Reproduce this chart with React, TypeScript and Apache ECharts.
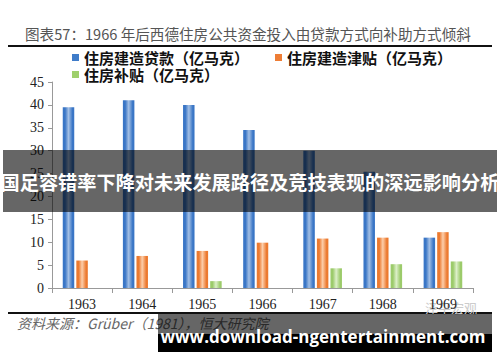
import React, { useEffect, useRef } from "react";
import * as echarts from "echarts";

const categories = ["1963", "1964", "1965", "1966", "1967", "1968", "1969"];
const loanValues = [39.5, 41, 40, 34.5, 30, 25.4, 11];
const buildSubsidyValues = [6, 7, 8.1, 9.9, 10.8, 11, 12.2];
const housingSubsidyValues = [0, 0, 1.5, 0, 4.3, 5.2, 5.8];
const seriesNames = ["住房建造贷款（亿马克）", "住房建造津贴（亿马克）", "住房补贴（亿马克）"];
const yTicks = { min: 0, max: 45, interval: 5 };

const grad = (edge: string, mid: string) =>
  new echarts.graphic.LinearGradient(0, 0, 1, 0, [
    { offset: 0, color: edge },
    { offset: 0.2, color: edge },
    { offset: 0.5, color: mid },
    { offset: 0.85, color: edge },
    { offset: 1, color: edge },
  ]);

export default function App() {
  const ref = useRef<HTMLDivElement>(null);
  useEffect(() => {
    if (!ref.current) return;
    const chart = echarts.init(ref.current, undefined, { renderer: "svg" });
    const serif = "'Liberation Serif', 'DejaVu Serif', serif";
    const cjk = "'Noto Sans CJK SC', sans-serif";
    const barCommon = { type: "bar" as const, barWidth: 11.5, barGap: "18%" };
    const legendCommon = {
      left: 67,
      itemWidth: 7,
      itemHeight: 7,
      itemGap: 26,
      icon: "rect",
      textStyle: { fontSize: 15, fontWeight: "bold", color: "#111", fontFamily: cjk },
    };
    chart.setOption({
      animation: false,
      backgroundColor: "#ffffff",
      grid: { left: 52, right: 27, top: 82, bottom: 74 },
      legend: [
        {
          ...legendCommon,
          top: 45,
          data: [
            { name: seriesNames[0], itemStyle: { color: "#3f7cc9" } },
            { name: seriesNames[1], itemStyle: { color: "#ee7d35" } },
          ],
        },
        {
          ...legendCommon,
          top: 62,
          data: [{ name: seriesNames[2], itemStyle: { color: "#9fd06c" } }],
        },
      ],
      xAxis: {
        type: "category",
        data: categories,
        axisLine: { lineStyle: { color: "#999" } },
        axisTick: { show: true, alignWithLabel: false, length: 5, lineStyle: { color: "#999" } },
        axisLabel: { color: "#222", fontSize: 14, fontFamily: serif, margin: 9 },
      },
      yAxis: {
        type: "value",
        min: yTicks.min,
        max: yTicks.max,
        interval: yTicks.interval,
        splitLine: { show: false },
        axisLine: { show: true, lineStyle: { color: "#999" } },
        axisTick: { show: true, length: 4, lineStyle: { color: "#999" } },
        axisLabel: { color: "#222", fontSize: 14, fontFamily: serif, margin: 8 },
      },
      series: [
        { ...barCommon, name: seriesNames[0], data: loanValues, itemStyle: { color: grad("#3a76c6", "#a3bfe4") } },
        { ...barCommon, name: seriesNames[1], data: buildSubsidyValues, itemStyle: { color: grad("#ec7a30", "#fcceaa") } },
        { ...barCommon, name: seriesNames[2], data: housingSubsidyValues, itemStyle: { color: grad("#9ccb6b", "#dcefc8") } },
      ],
      graphic: [
        {
          type: "text",
          left: 25,
          top: 26,
          style: {
            text: "图表57：1966 年后西德住房公共资金投入由贷款方式向补助方式倾斜",
            fontSize: 14.6,
            fontFamily: cjk,
            fill: "#555",
          },
        },
        { type: "rect", shape: { x: 8, y: 45, width: 484, height: 2 }, style: { fill: "#111" } },
        { type: "rect", shape: { x: 8, y: 312, width: 484, height: 2 }, style: { fill: "#111" } },
        {
          type: "text",
          left: 17,
          top: 316,
          style: {
            text: "资料来源：Grüber（1981），恒大研究院",
            fontSize: 14,
            fontStyle: "italic",
            fontFamily: cjk,
            fill: "#666",
          },
        },
        {
          type: "text",
          left: 425,
          top: 301,
          style: { text: "泽平宏观", fontSize: 13, fontFamily: cjk, fill: "#ccc" },
        },
        {
          type: "rect",
          z: 100,
          shape: { x: 3, y: 150, width: 494, height: 62 },
          style: { fill: "rgba(0,0,0,0.6)" },
        },
        {
          type: "text",
          z: 101,
          x: 250,
          y: 182,
          style: {
            text: "国足容错率下降对未来发展路径及竞技表现的深远影响分析",
            fontSize: 19.2,
            fontWeight: "bold",
            fontFamily: cjk,
            fill: "#fff",
            align: "center",
            verticalAlign: "middle",
          },
        },
        {
          type: "rect",
          z: 100,
          shape: { x: 158, y: 314, width: 334, height: 21 },
          style: { fill: "rgba(0,0,0,0.6)" },
        },
        {
          type: "rect",
          z: 100,
          shape: { x: 158, y: 334, width: 334, height: 18 },
          style: { fill: "#000" },
        },
        {
          type: "text",
          z: 101,
          x: 323,
          y: 336,
          style: {
            text: "www.download-ngentertainment.com",
            fontSize: 17,
            fontWeight: "bold",
            fontFamily: "'Open Sans', sans-serif",
            fill: "#fff",
            align: "center",
            verticalAlign: "middle",
          },
        },
      ],
    });
    return () => chart.dispose();
  }, []);
  return <div ref={ref} style={{ width: 500, height: 362, position: "absolute", left: 0, top: 0 }} />;
}
